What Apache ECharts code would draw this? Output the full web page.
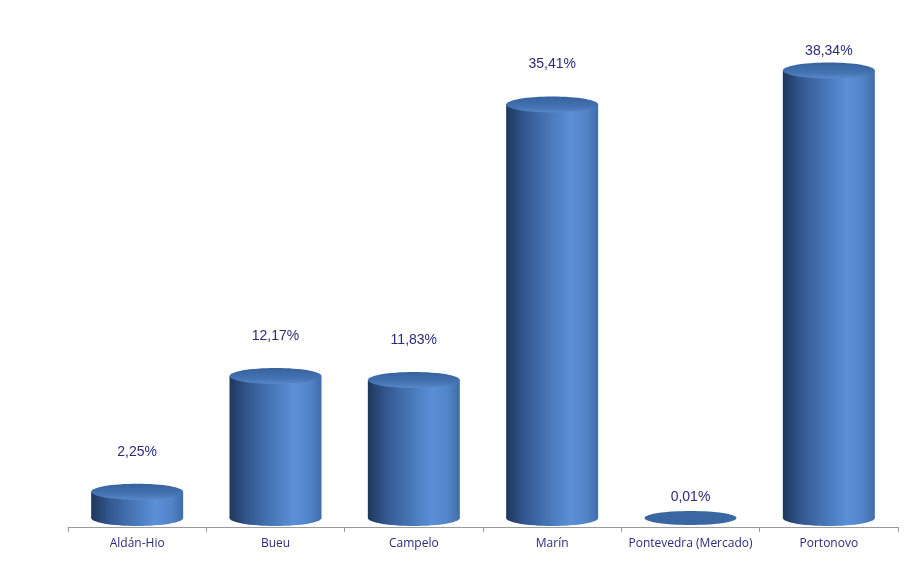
<!DOCTYPE html>
<html><head><meta charset="utf-8">
<script src="https://cdn.jsdelivr.net/npm/echarts@6/dist/echarts.min.js"></script>
<style>html,body{margin:0;padding:0;background:#fff}#c{width:923px;height:581px}</style>
</head><body><div id="c"></div>
<script>
const categories = ['Aldán-Hio', 'Bueu', 'Campelo', 'Marín', 'Pontevedra (Mercado)', 'Portonovo'];
const values = [2.25, 12.17, 11.83, 35.41, 0.01, 38.34];

function fmt(v){ return v.toFixed(2).replace('.', ',') + '%'; }

const chart = echarts.init(document.getElementById('c'));
const bodyGrad = new echarts.graphic.LinearGradient(0, 0, 1, 0, [
  {offset: 0, color: '#1e375c'},
  {offset: 0.2, color: '#335890'},
  {offset: 0.5, color: '#4a7bbd'},
  {offset: 0.7, color: '#5b90d6'},
  {offset: 0.87, color: '#5284c8'},
  {offset: 1, color: '#416ca8'}
]);
const topGrad = new echarts.graphic.LinearGradient(0, 0, 0, 1, [
  {offset: 0, color: '#36629e'},
  {offset: 0.65, color: '#4473b2'},
  {offset: 1, color: '#5888c8'}
]);

chart.setOption({
  animation: false,
  grid: {left: 68, right: 25, top: 51, bottom: 54},
  xAxis: {
    type: 'category', data: categories,
    axisLine: {onZero: false, lineStyle: {color: '#9a9a9a', width: 1}},
    axisTick: {show: true, interval: 0, length: 5, lineStyle: {color: '#9a9a9a'}},
    axisLabel: {interval: 0, color: '#2b2b7a', fontSize: 12, fontFamily: 'Open Sans', margin: 11}
  },
  yAxis: {type: 'value', min: -0.77, max: 40, show: false, splitLine: {show: false}},
  series: [{
    type: 'custom',
    data: values,
    renderItem: function(params, api){
      const idx = api.value(0);
      const v = api.value(1);
      const top = api.coord([idx, v]);
      const base = api.coord([idx, 0]);
      const bw = api.size([1, 0])[0] * 0.665;
      const rx = bw / 2, ry = 8;
      const cx = top[0];
      const children = [];
      const h = base[1] - top[1];
      if (h > 1) {
        children.push({type: 'ellipse', shape: {cx: cx, cy: base[1], rx: rx, ry: ry}, style: {fill: bodyGrad}});
        children.push({type: 'rect', shape: {x: cx - rx, y: top[1], width: bw, height: h}, style: {fill: bodyGrad}});
      }
      children.push({type: 'ellipse', shape: {cx: cx, cy: top[1], rx: rx, ry: h > 1 ? ry : 7}, style: {fill: h > 1 ? topGrad : '#3a66a2'}});
      const off = v < 0.5 ? 21 : 40;
      const ly = Math.max(51, top[1] - off);
      children.push({type: 'text', style: {x: cx, y: ly, text: fmt(v), align: 'center', verticalAlign: 'middle',
        fill: '#2b2b7a', fontSize: 14, fontFamily: 'Liberation Sans'}});
      return {type: 'group', children: children};
    },
    encode: {x: 0, y: 1}
  }]
});
</script></body></html>
